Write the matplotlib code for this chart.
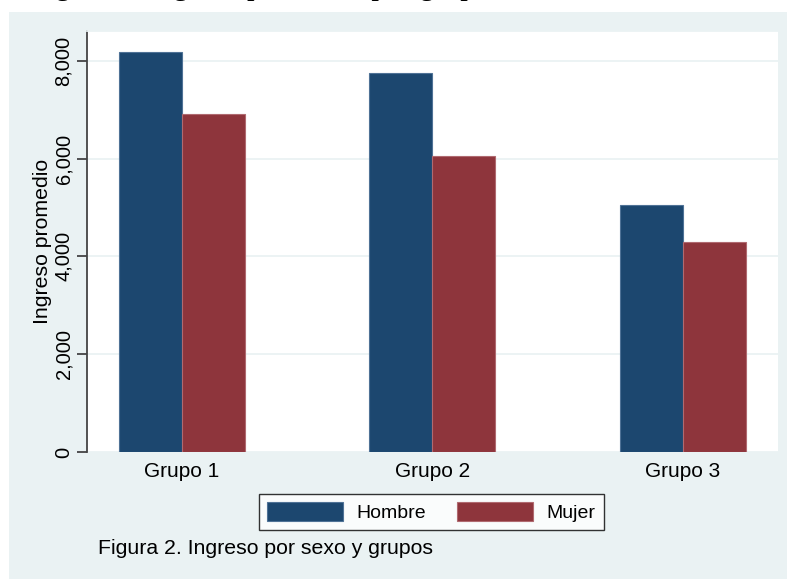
import matplotlib
matplotlib.use("Agg")
import matplotlib.pyplot as plt
from matplotlib.patches import Rectangle
import numpy as np

# Datos
grupos = ["Grupo 1", "Grupo 2", "Grupo 3"]
hombre = [8180, 7750, 5050]
mujer = [6910, 6050, 4290]
yticks = [0, 2000, 4000, 6000, 8000]
ytick_labels = ["0", "2,000", "4,000", "6,000", "8,000"]

plt.rcParams["font.family"] = ["Liberation Sans", "DejaVu Sans"]

bg = "#EAF2F3"
azul = "#1C476F"
rojo = "#8E353C"

fig = plt.figure(figsize=(7.87, 5.79), dpi=100)
fig.patch.set_facecolor("white")
# Fondo estilo Stata
fig.patches.append(Rectangle((9 / 787, 0), 1 - 9 / 787, 1 - 12 / 579,
                             transform=fig.transFigure, facecolor=bg,
                             edgecolor="none", zorder=-5))

# Texto cortado en la parte superior (como en la imagen original)
fig.text(30 / 787, 1 + 6 / 579, "Figura 1. Ingreso promedio por grupo",
         family=["Liberation Serif"], fontsize=22, va="baseline", ha="left")

ax = fig.add_axes([87 / 787, 1 - 452 / 579, (778 - 87) / 787, (452 - 31) / 579])
ax.set_zorder(2)
ax.set_facecolor("white")

x = np.arange(len(grupos))
w = 0.252
ax.bar(x - w / 2, hombre, width=w, color=azul, edgecolor="#4f7296",
       linewidth=0.8, label="Hombre", zorder=3)
ax.bar(x + w / 2, mujer, width=w, color=rojo, edgecolor="#b06a70",
       linewidth=0.8, label="Mujer", zorder=3)

ax.set_xlim(-0.379, 2.38)
ax.set_ylim(0, 8610)

ax.set_yticks(yticks)
ax.set_yticklabels(ytick_labels, rotation=90, va="center", fontsize=14.5)
ax.tick_params(axis="y", length=7, width=1.3, color="#444444", pad=3)
ax.set_xticks(x)
ax.set_xticklabels(grupos, fontsize=15)
ax.tick_params(axis="x", length=0, pad=7)

ax.grid(axis="y", color=bg, linewidth=1.3, zorder=1)
ax.set_axisbelow(True)

for s in ["right", "bottom"]:
    ax.spines[s].set_visible(False)
ax.spines["top"].set_color(bg)
ax.spines["top"].set_linewidth(1.3)
ax.spines["left"].set_color("#444444")
ax.spines["left"].set_linewidth(1.3)

ax.set_ylabel("Ingreso promedio", fontsize=15.3)
ax.yaxis.set_label_coords(-35 / 691, 0.5)

leg = ax.legend(loc="center", bbox_to_anchor=(431.5 / 787, 1 - 512 / 579),
                bbox_transform=fig.transFigure, ncol=2, fontsize=14,
                frameon=True, fancybox=False, edgecolor="black",
                handlelength=3.9, handleheight=1.1, handletextpad=0.7,
                columnspacing=1.6, borderpad=0.4, borderaxespad=0)
leg.get_frame().set_linewidth(1.0)
leg.get_frame().set_facecolor("white")

fig.text(98 / 787, 1 - 549 / 579, "Figura 2. Ingreso por sexo y grupos",
         fontsize=15.3, va="center", ha="left")

fig.savefig("out.png", dpi=100)
